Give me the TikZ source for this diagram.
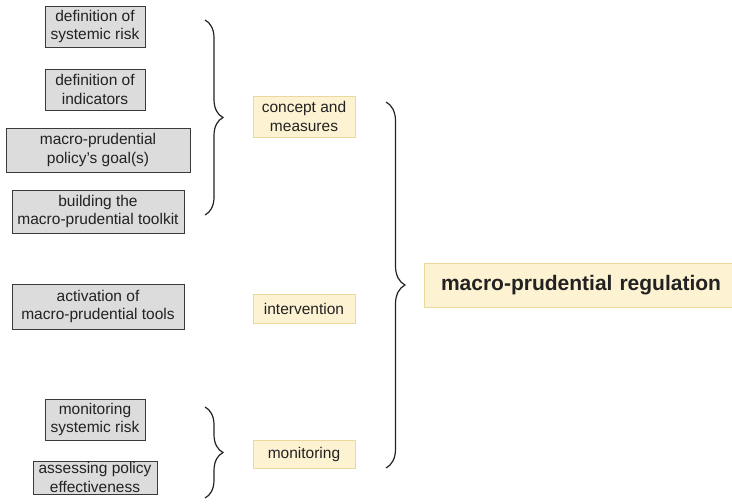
\documentclass[tikz,border=0pt]{standalone}
\usepackage{fontspec}
\setmainfont{Liberation Sans}
\usetikzlibrary{decorations.pathreplacing}
\definecolor{grayfill}{HTML}{DCDCDC}
\definecolor{grayline}{HTML}{3A3A3A}
\definecolor{yelfill}{HTML}{FDF2D2}
\definecolor{yelline}{HTML}{EBD89C}
\definecolor{txt}{HTML}{222222}
\begin{document}
\begin{tikzpicture}[x=1pt,y=-1pt,
  graybox/.style={draw=grayline, fill=grayfill, line width=0.9pt, align=center, inner sep=0pt,
    font=\fontsize{15.5}{18.5}\selectfont, text=txt},
  yelbox/.style={draw=yelline, fill=yelfill, line width=0.9pt, align=center, inner sep=0pt,
    font=\fontsize{15.5}{18.5}\selectfont, text=txt, minimum width=102pt},
  bigbox/.style={draw=yelline, fill=yelfill, line width=1pt, inner sep=0pt,
    font=\fontsize{21}{24}\selectfont\bfseries, text=txt},
  bracestyle/.style={draw=txt, line width=1.2pt, decorate, decoration={brace, amplitude=#1}}
]
\useasboundingbox (0,0) rectangle (732,504);
\fill[white] (0,0) rectangle (732,504);

\node[graybox, minimum width=100pt, minimum height=41pt] (b1) at (95,26.5) {definition of\\systemic risk};
\node[graybox, minimum width=100pt, minimum height=41pt] (b2) at (95,89.5) {definition of\\indicators};
\node[graybox, minimum width=184pt, minimum height=44pt] (b3) at (98,150) {macro-prudential\\policy’s goal(s)};
\node[graybox, minimum width=172pt, minimum height=43pt] (b4) at (98,211.5) {building the\\macro-prudential toolkit};
\node[graybox, minimum width=172pt, minimum height=45pt] (b5) at (98,306.5) {activation of\\macro-prudential tools};
\node[graybox, minimum width=100pt, minimum height=41pt] (b6) at (95,419.5) {monitoring\\systemic risk};
\node[graybox, minimum width=124pt, minimum height=33pt] (b7) at (95,477.5) {assessing policy\\effectiveness};

\node[yelbox, minimum height=41pt] (y1) at (304,116.5) {concept and\\measures};
\node[yelbox, minimum height=29pt] (y2) at (304,308.5) {intervention};
\node[yelbox, minimum height=28pt] (y3) at (304,454) {monitoring};

\node[bigbox, minimum width=312pt, minimum height=44pt, text width=300pt, align=left] (big) at (580,285) {\hspace*{11pt}macro-prudential regulation};

\coordinate (c1t) at (205,20);
\coordinate (c1b) at (205,215);
\coordinate (c2t) at (205,407);
\coordinate (c2b) at (205,498);
\coordinate (c3t) at (386,102);
\coordinate (c3b) at (386,468);

\draw[bracestyle=18pt] (c1t) -- (c1b);
\draw[bracestyle=18pt] (c2t) -- (c2b);
\draw[bracestyle=19pt] (c3t) -- (c3b);
\end{tikzpicture}
\end{document}
